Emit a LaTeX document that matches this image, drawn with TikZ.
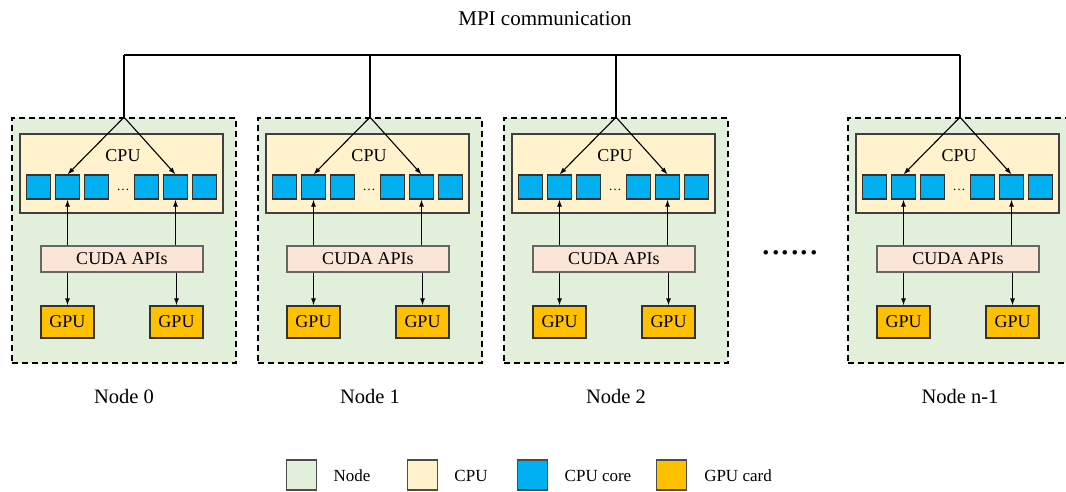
\documentclass[tikz,border=0pt]{standalone}
\usepackage{fontspec}
\setmainfont{Liberation Serif}
\usepackage{tikz}
\usetikzlibrary{positioning,arrows.meta}

\definecolor{vertnoeud}{HTML}{E2EFDA}
\definecolor{jaunecpu}{HTML}{FFF2CC}
\definecolor{bleucoeur}{HTML}{00B0F0}
\definecolor{orangegpu}{HTML}{FFC000}
\definecolor{rosecuda}{HTML}{FBE5D6}

\begin{document}
\begin{tikzpicture}[x=1pt,y=-1pt,line width=1.2pt,
    noeud/.style={rectangle,draw,dashed,dash pattern=on 6pt off 4pt,line width=1.6pt,
      fill=vertnoeud,minimum width=224pt,minimum height=245pt,inner sep=0pt},
    boitecpu/.style={rectangle,draw=black!75,fill=jaunecpu,minimum width=203pt,
      minimum height=79pt,inner sep=0pt},
    coeur/.style={rectangle,draw=black!80,fill=bleucoeur,minimum size=24pt,inner sep=0pt},
    boitecuda/.style={rectangle,draw=black!60,fill=rosecuda,minimum width=162pt,
      minimum height=26pt,inner sep=0pt,font=\fontsize{18}{20}\selectfont},
    boitegpu/.style={rectangle,draw=black!80,fill=orangegpu,minimum width=53pt,
      minimum height=32pt,inner sep=0pt,font=\fontsize{18}{20}\selectfont},
    fl/.style={-{Latex[length=7pt,width=5pt]},line width=1.1pt},
    legende/.style={rectangle,draw=black!70,minimum size=30pt,inner sep=0pt,line width=1.2pt}]

  \useasboundingbox (0,0) rectangle (1066,492);

  % Titre
  \node[font=\fontsize{21}{24}\selectfont] (titre) at (545,19) {MPI communication};

  % Les quatre noeuds de calcul
  \foreach \i/\x/\lab in {0/12/0,1/258/1,2/504/2,3/848/n-1}{
    \node[noeud] (N\i) at (\x+112,240.5) {};
    \node[boitecpu] (CPU\i) at (\x+109.5,173.5) {};
    \node[font=\fontsize{18}{20}\selectfont] (tCPU\i) at (\x+111,156) {CPU};
    % coeurs
    \foreach \k/\cx in {1/26.5,2/55.5,3/84.5,4/134.5,5/163.5,6/192.5}{
      \node[coeur] (C\i-\k) at (\x+\cx,187) {};
    }
    \node[font=\fontsize{13}{14}\selectfont,anchor=base] (pts\i) at (\x+111,190) {…};
    \node[boitecuda] (CUDA\i) at (\x+110,259) {CUDA APIs};
    \node[boitegpu] (GA\i) at (\x+55.5,322) {GPU};
    \node[boitegpu] (GB\i) at (\x+164.5,322) {GPU};
    \node[font=\fontsize{20.5}{23}\selectfont,below=22pt of N\i] (lab\i) {Node \lab};

    % fleches internes
    \draw[fl] (N\i.north) -- (C\i-2.north);
    \draw[fl] (N\i.north) -- (C\i-5.north);
    \draw[fl] (CUDA\i.north -| C\i-2) -- (C\i-2.south);
    \draw[fl] (CUDA\i.north -| C\i-5) -- (C\i-5.south);
    \draw[fl] (CUDA\i.south -| GA\i) -- (GA\i.north);
    \draw[fl] (CUDA\i.south -| GB\i) -- (GB\i.north);
  }

  % Bus MPI
  \coordinate (busG) at (N0.north |- 0,55);
  \coordinate (busD) at (N3.north |- 0,55);
  \draw (busG) -- (busD);
  \foreach \i in {0,1,2,3}{
    \draw (N\i.north) -- (N\i.north |- busG);
  }

  % Points de suspension
  \node[font=\fontsize{38}{40}\selectfont,anchor=base] (susp) at (790,254) {......};

  % Legende
  \node[legende,fill=vertnoeud] (lgN) at (301.5,475) {};
  \node[font=\fontsize{17}{19}\selectfont] (tlgN) at (352,476) {Node};
  \node[legende,fill=jaunecpu] (lgC) at (422.5,475) {};
  \node[font=\fontsize{17}{19}\selectfont] (tlgC) at (471,476) {CPU};
  \node[legende,fill=bleucoeur] (lgK) at (532.5,475) {};
  \node[font=\fontsize{17}{19}\selectfont] (tlgK) at (598,476) {CPU core};
  \node[legende,fill=orangegpu] (lgG) at (671.5,475) {};
  \node[font=\fontsize{17}{19}\selectfont] (tlgG) at (738,476) {GPU card};
\end{tikzpicture}
\end{document}
